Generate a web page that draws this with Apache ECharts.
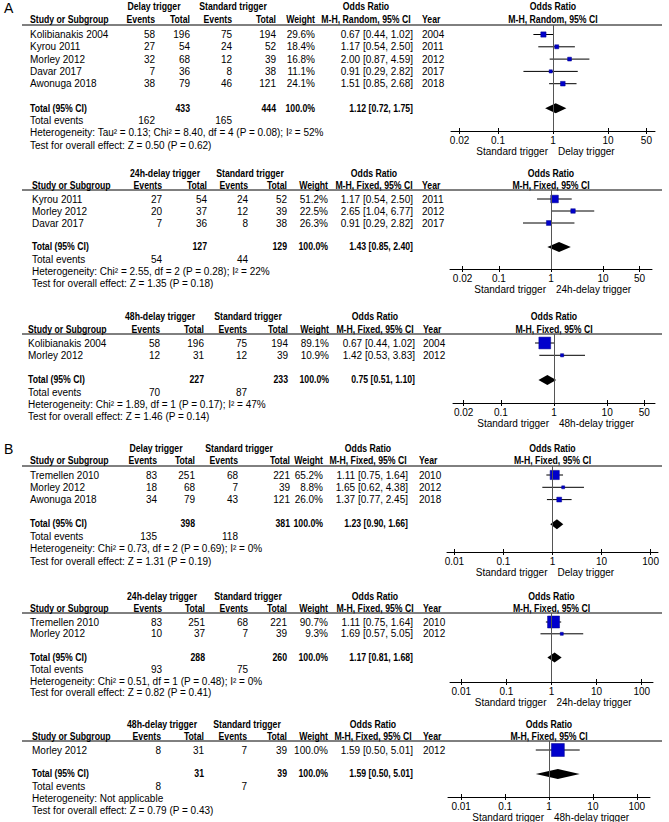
<!DOCTYPE html>
<html><head><meta charset="utf-8">
<script src="https://cdn.jsdelivr.net/npm/echarts@6/dist/echarts.min.js"></script>
<style>html,body{margin:0;padding:0;background:#fff}#c{width:669px;height:822px}</style>
</head><body><div id="c"></div>
<script>
// ================= DATA =================
// Panel A1: Delay trigger vs Standard trigger (random effects)
const a1Study = ['Kolibianakis 2004','Kyrou 2011','Morley 2012','Davar 2017','Awonuga 2018'];
const a1ExpEv = [58,27,32,7,38];
const a1ExpN = [196,54,68,36,79];
const a1CtlEv = [75,24,12,8,46];
const a1CtlN = [194,52,39,38,121];
const a1Weight = [29.6,18.4,16.8,11.1,24.1];
const a1OR = [0.67,1.17,2.00,0.91,1.51];
const a1Lo = [0.44,0.54,0.87,0.29,0.85];
const a1Hi = [1.02,2.50,4.59,2.82,2.68];
const a1Year = [2004,2011,2012,2017,2018];
const a1TotalN = [433,444];
const a1TotalEv = [162,165];
const a1Pooled = [1.12,0.72,1.75];
const a1Het = 'Heterogeneity: Tau² = 0.13; Chi² = 8.40, df = 4 (P = 0.08); I² = 52%';
const a1Test = 'Test for overall effect: Z = 0.50 (P = 0.62)';
const a1Groups = ['Delay trigger','Standard trigger'];
const a1Method = 'M-H, Random, 95% CI';
const a1Ticks = [0.02,0.1,1,10,50];
const a1Favours = ['Standard trigger','Delay trigger'];

// Panel A2: 24h-delay
const a2Study = ['Kyrou 2011','Morley 2012','Davar 2017'];
const a2ExpEv = [27,20,7];
const a2ExpN = [54,37,36];
const a2CtlEv = [24,12,8];
const a2CtlN = [52,39,38];
const a2Weight = [51.2,22.5,26.3];
const a2OR = [1.17,2.65,0.91];
const a2Lo = [0.54,1.04,0.29];
const a2Hi = [2.50,6.77,2.82];
const a2Year = [2011,2012,2017];
const a2TotalN = [127,129];
const a2TotalEv = [54,44];
const a2Pooled = [1.43,0.85,2.40];
const a2Het = 'Heterogeneity: Chi² = 2.55, df = 2 (P = 0.28); I² = 22%';
const a2Test = 'Test for overall effect: Z = 1.35 (P = 0.18)';
const a2Groups = ['24h-delay trigger','Standard trigger'];
const a2Method = 'M-H, Fixed, 95% CI';
const a2Ticks = [0.02,0.1,1,10,50];
const a2Favours = ['Standard trigger','24h-delay trigger'];

// Panel A3: 48h-delay
const a3Study = ['Kolibianakis 2004','Morley 2012'];
const a3ExpEv = [58,12];
const a3ExpN = [196,31];
const a3CtlEv = [75,12];
const a3CtlN = [194,39];
const a3Weight = [89.1,10.9];
const a3OR = [0.67,1.42];
const a3Lo = [0.44,0.53];
const a3Hi = [1.02,3.83];
const a3Year = [2004,2012];
const a3TotalN = [227,233];
const a3TotalEv = [70,87];
const a3Pooled = [0.75,0.51,1.10];
const a3Het = 'Heterogeneity: Chi² = 1.89, df = 1 (P = 0.17); I² = 47%';
const a3Test = 'Test for overall effect: Z = 1.46 (P = 0.14)';
const a3Groups = ['48h-delay trigger','Standard trigger'];
const a3Method = 'M-H, Fixed, 95% CI';
const a3Ticks = [0.02,0.1,1,10,50];
const a3Favours = ['Standard trigger','48h-delay trigger'];

// Panel B1
const b1Study = ['Tremellen 2010','Morley 2012','Awonuga 2018'];
const b1ExpEv = [83,18,34];
const b1ExpN = [251,68,79];
const b1CtlEv = [68,7,43];
const b1CtlN = [221,39,121];
const b1Weight = [65.2,8.8,26.0];
const b1OR = [1.11,1.65,1.37];
const b1Lo = [0.75,0.62,0.77];
const b1Hi = [1.64,4.38,2.45];
const b1Year = [2010,2012,2018];
const b1TotalN = [398,381];
const b1TotalEv = [135,118];
const b1Pooled = [1.23,0.90,1.66];
const b1Het = 'Heterogeneity: Chi² = 0.73, df = 2 (P = 0.69); I² = 0%';
const b1Test = 'Test for overall effect: Z = 1.31 (P = 0.19)';
const b1Groups = ['Delay trigger','Standard trigger'];
const b1Method = 'M-H, Fixed, 95% CI';
const b1Ticks = [0.01,0.1,1,10,100];
const b1Favours = ['Standard trigger','Delay trigger'];

// Panel B2
const b2Study = ['Tremellen 2010','Morley 2012'];
const b2ExpEv = [83,10];
const b2ExpN = [251,37];
const b2CtlEv = [68,7];
const b2CtlN = [221,39];
const b2Weight = [90.7,9.3];
const b2OR = [1.11,1.69];
const b2Lo = [0.75,0.57];
const b2Hi = [1.64,5.05];
const b2Year = [2010,2012];
const b2TotalN = [288,260];
const b2TotalEv = [93,75];
const b2Pooled = [1.17,0.81,1.68];
const b2Het = 'Heterogeneity: Chi² = 0.51, df = 1 (P = 0.48); I² = 0%';
const b2Test = 'Test for overall effect: Z = 0.82 (P = 0.41)';
const b2Groups = ['24h-delay trigger','Standard trigger'];
const b2Method = 'M-H, Fixed, 95% CI';
const b2Ticks = [0.01,0.1,1,10,100];
const b2Favours = ['Standard trigger','24h-delay trigger'];

// Panel B3
const b3Study = ['Morley 2012'];
const b3ExpEv = [8];
const b3ExpN = [31];
const b3CtlEv = [7];
const b3CtlN = [39];
const b3Weight = [100.0];
const b3OR = [1.59];
const b3Lo = [0.50];
const b3Hi = [5.01];
const b3Year = [2012];
const b3TotalN = [31,39];
const b3TotalEv = [8,7];
const b3Pooled = [1.59,0.50,5.01];
const b3Het = 'Heterogeneity: Not applicable';
const b3Test = 'Test for overall effect: Z = 0.79 (P = 0.43)';
const b3Groups = ['48h-delay trigger','Standard trigger'];
const b3Method = 'M-H, Fixed, 95% CI';
const b3Ticks = [0.01,0.1,1,10,100];
const b3Favours = ['Standard trigger','48h-delay trigger'];

// ================= ASSEMBLY =================
const panels = [
  {study:a1Study,ee:a1ExpEv,en:a1ExpN,ce:a1CtlEv,cn:a1CtlN,w:a1Weight,or:a1OR,lo:a1Lo,hi:a1Hi,year:a1Year,totN:a1TotalN,totEv:a1TotalEv,pooled:a1Pooled,het:a1Het,test:a1Test,groups:a1Groups,method:a1Method,ticks:a1Ticks,fav:a1Favours,tag:'A'},
  {study:a2Study,ee:a2ExpEv,en:a2ExpN,ce:a2CtlEv,cn:a2CtlN,w:a2Weight,or:a2OR,lo:a2Lo,hi:a2Hi,year:a2Year,totN:a2TotalN,totEv:a2TotalEv,pooled:a2Pooled,het:a2Het,test:a2Test,groups:a2Groups,method:a2Method,ticks:a2Ticks,fav:a2Favours},
  {study:a3Study,ee:a3ExpEv,en:a3ExpN,ce:a3CtlEv,cn:a3CtlN,w:a3Weight,or:a3OR,lo:a3Lo,hi:a3Hi,year:a3Year,totN:a3TotalN,totEv:a3TotalEv,pooled:a3Pooled,het:a3Het,test:a3Test,groups:a3Groups,method:a3Method,ticks:a3Ticks,fav:a3Favours},
  {study:b1Study,ee:b1ExpEv,en:b1ExpN,ce:b1CtlEv,cn:b1CtlN,w:b1Weight,or:b1OR,lo:b1Lo,hi:b1Hi,year:b1Year,totN:b1TotalN,totEv:b1TotalEv,pooled:b1Pooled,het:b1Het,test:b1Test,groups:b1Groups,method:b1Method,ticks:b1Ticks,fav:b1Favours,tag:'B'},
  {study:b2Study,ee:b2ExpEv,en:b2ExpN,ce:b2CtlEv,cn:b2CtlN,w:b2Weight,or:b2OR,lo:b2Lo,hi:b2Hi,year:b2Year,totN:b2TotalN,totEv:b2TotalEv,pooled:b2Pooled,het:b2Het,test:b2Test,groups:b2Groups,method:b2Method,ticks:b2Ticks,fav:b2Favours},
  {study:b3Study,ee:b3ExpEv,en:b3ExpN,ce:b3CtlEv,cn:b3CtlN,w:b3Weight,or:b3OR,lo:b3Lo,hi:b3Hi,year:b3Year,totN:b3TotalN,totEv:b3TotalEv,pooled:b3Pooled,het:b3Het,test:b3Test,groups:b3Groups,method:b3Method,ticks:b3Ticks,fav:b3Favours}
];

// layout (pixels)
const layouts = [
  {tagY:8,h1:7,h2:20,line:25,row0:34.5,step:12.3,axis:131,left:451,right:655,dec:1.855,sx:30,c:[155,190,232,276,315],ci:413,yr:422,g:[154,233],ch:366},
  {h1:174,h2:186,line:190,row0:199,step:12,axis:269,left:450,right:652,dec:1.94,sx:32,c:[162,207,248,287,328],ci:413,yr:422,g:[165,250],ch:374},
  {h1:317,h2:330,line:334,row0:343,step:12.3,axis:403,left:453,right:655,dec:1.9,sx:28,c:[160,204,247,288,329],ci:415,yr:423,g:[160,248],ch:375},
  {tagY:449,h1:449,h2:461,line:466,row0:475,step:12.3,axis:552,left:447,right:658,dec:2.15,sx:30,c:[157,195,238,290,323],ci:408,yr:419,g:[156,239],ch:368},
  {h1:597,h2:609,line:613,row0:622,step:11.8,axis:682,left:450,right:653,dec:2.25,sx:30,c:[162,205,248,287,328],ci:413,yr:423,g:[162,248],ch:375},
  {h1:725,h2:737,line:741,row0:750,step:12,axis:797,left:448,right:650,dec:2.3,sx:32,c:[161,204,247,287,328],ci:413,yr:423,g:[162,247],ch:373}
];

const FONT = '"Liberation Sans", Arial, sans-serif';
const BOLD_SQUEEZE = 0.87;
const chart = echarts.init(document.getElementById('c'), null, {renderer:'svg'});

const grids=[], xAxes=[], yAxes=[], series=[];
panels.forEach((p,i)=>{
  const L = layouts[i];
  const xmin = Math.pow(10,-L.dec), xmax = Math.pow(10,L.dec);
  grids.push({left:L.left, width:L.right-L.left, top:L.line, height:L.axis-L.line, containLabel:false});
  xAxes.push({type:'log', logBase:10, gridIndex:i, position:'bottom', min:xmin, max:xmax,
    axisLine:{show:true, onZero:false, lineStyle:{color:'#000',width:1}},
    axisTick:{show:true, customValues:p.ticks, length:3, lineStyle:{color:'#000'}},
    axisLabel:{show:true, customValues:p.ticks, fontSize:10, color:'#000', fontFamily:FONT, margin:4},
    splitLine:{show:false}, minorTick:{show:false}});
  xAxes.push({type:'log', logBase:10, gridIndex:i, position:'bottom', min:xmin, max:xmax,
    axisLine:{show:false, onZero:false},
    axisTick:{show:true, inside:true, customValues:p.ticks, length:3, lineStyle:{color:'#000'}},
    axisLabel:{show:false}, splitLine:{show:false}});
  const n = p.study.length;
  yAxes.push({type:'value', gridIndex:i, inverse:true, show:false,
    min:-(L.row0-L.line)/L.step, max:(L.axis-L.row0)/L.step, splitLine:{show:false},
    axisLine:{show:false}});
  const data = p.study.map((s,k)=>[p.or[k],p.lo[k],p.hi[k],k,p.w[k],0]);
  data.push([p.pooled[0],p.pooled[1],p.pooled[2],n+1,100,1]);
  series.push({type:'custom', xAxisIndex:2*i, yAxisIndex:i, clip:false, silent:true,
    encode:{x:[0,1,2], y:3}, data,
    renderItem(params, api){
      const or=api.value(0), lo=api.value(1), hi=api.value(2), row=api.value(3), w=api.value(4), kind=api.value(5);
      const c=api.coord([or,row]), l=api.coord([lo,row]), h=api.coord([hi,row]);
      if(kind===1){
        return {type:'polygon', shape:{points:[[l[0],c[1]],[c[0],c[1]-5],[h[0],c[1]],[c[0],c[1]+5]]}, style:{fill:'#000'}};
      }
      const s = 2 + 11*w/100;
      return {type:'group', children:[
        {type:'line', shape:{x1:l[0],y1:c[1],x2:h[0],y2:c[1]}, style:{stroke:'#000',lineWidth:1}},
        {type:'rect', shape:{x:c[0]-s/2,y:c[1]-s/2,width:s,height:s}, style:{fill:'#0000CC',stroke:'#00008B',lineWidth:0.5}}
      ]};
    },
    markLine:{silent:true, symbol:'none', label:{show:false}, animation:false,
      lineStyle:{color:'#555',width:1,type:'solid'}, data:[{xAxis:1}]}
  });
});

chart.setOption({animation:false, grid:grids, xAxis:xAxes, yAxis:yAxes, series});

// ---- table text ----
const gfx = [];
function txt(x,y,text,align,bold,size){
  const fs = size || 10;
  gfx.push({type:'text', x, y, scaleX: bold ? BOLD_SQUEEZE : 1, silent:true, style:{text:String(text), fill:'#000',
    font:(bold?'bold ':'')+fs+'px '+FONT, align:align||'left', textAlign:align||'left',
    verticalAlign:'middle', textVerticalAlign:'middle'}});
}
const fmtCI = (a,b,c)=>a.toFixed(2)+' ['+b.toFixed(2)+', '+c.toFixed(2)+']';
panels.forEach((p,i)=>{
  const L = layouts[i];
  const x1 = chart.convertToPixel({xAxisIndex:2*i}, 1);
  if(p.tag) txt(4, L.tagY, p.tag, 'left', false, 14);
  // header row 1
  txt(L.g[0], L.h1, p.groups[0], 'center', true);
  txt(L.g[1], L.h1, p.groups[1], 'center', true);
  txt(L.ch, L.h1, 'Odds Ratio', 'center', true);
  txt(x1, L.h1, 'Odds Ratio', 'center', true);
  // header row 2
  txt(L.sx, L.h2, 'Study or Subgroup', 'left', true);
  txt(L.c[0], L.h2, 'Events', 'right', true);
  txt(L.c[1], L.h2, 'Total', 'right', true);
  txt(L.c[2], L.h2, 'Events', 'right', true);
  txt(L.c[3], L.h2, 'Total', 'right', true);
  txt(L.c[4], L.h2, 'Weight', 'right', true);
  txt(L.ch, L.h2, p.method, 'center', true);
  txt(L.yr, L.h2, 'Year', 'left', true);
  txt(x1, L.h2, p.method, 'center', true);
  gfx.push({type:'line', silent:true, shape:{x1:22,y1:L.line,x2:662,y2:L.line}, style:{stroke:'#000',lineWidth:1}});
  // rows
  p.study.forEach((s,k)=>{
    const y = chart.convertToPixel({yAxisIndex:i}, k);
    txt(L.sx, y, s, 'left');
    txt(L.c[0], y, p.ee[k], 'right');
    txt(L.c[1], y, p.en[k], 'right');
    txt(L.c[2], y, p.ce[k], 'right');
    txt(L.c[3], y, p.cn[k], 'right');
    txt(L.c[4], y, p.w[k].toFixed(1)+'%', 'right');
    txt(L.ci, y, fmtCI(p.or[k],p.lo[k],p.hi[k]), 'right');
    txt(L.yr, y, p.year[k], 'left');
  });
  const n = p.study.length;
  const yt = chart.convertToPixel({yAxisIndex:i}, n+1);
  const st = chart.convertToPixel({yAxisIndex:i}, n+2) - yt;
  txt(L.sx, yt, 'Total (95% CI)', 'left', true);
  txt(L.c[1], yt, p.totN[0], 'right', true);
  txt(L.c[3], yt, p.totN[1], 'right', true);
  txt(L.c[4], yt, '100.0%', 'right', true);
  txt(L.ci, yt, fmtCI(p.pooled[0],p.pooled[1],p.pooled[2]), 'right', true);
  txt(L.sx, yt+st, 'Total events', 'left');
  txt(L.c[0], yt+st, p.totEv[0], 'right');
  txt(L.c[2], yt+st, p.totEv[1], 'right');
  txt(L.sx, yt+2*st, p.het, 'left');
  txt(L.sx, yt+3*st, p.test, 'left');
  // favours labels
  txt(x1-5, L.axis+20, p.fav[0], 'right');
  txt(x1+5, L.axis+20, p.fav[1], 'left');
});
chart.setOption({graphic:gfx});
</script>
</body></html>
